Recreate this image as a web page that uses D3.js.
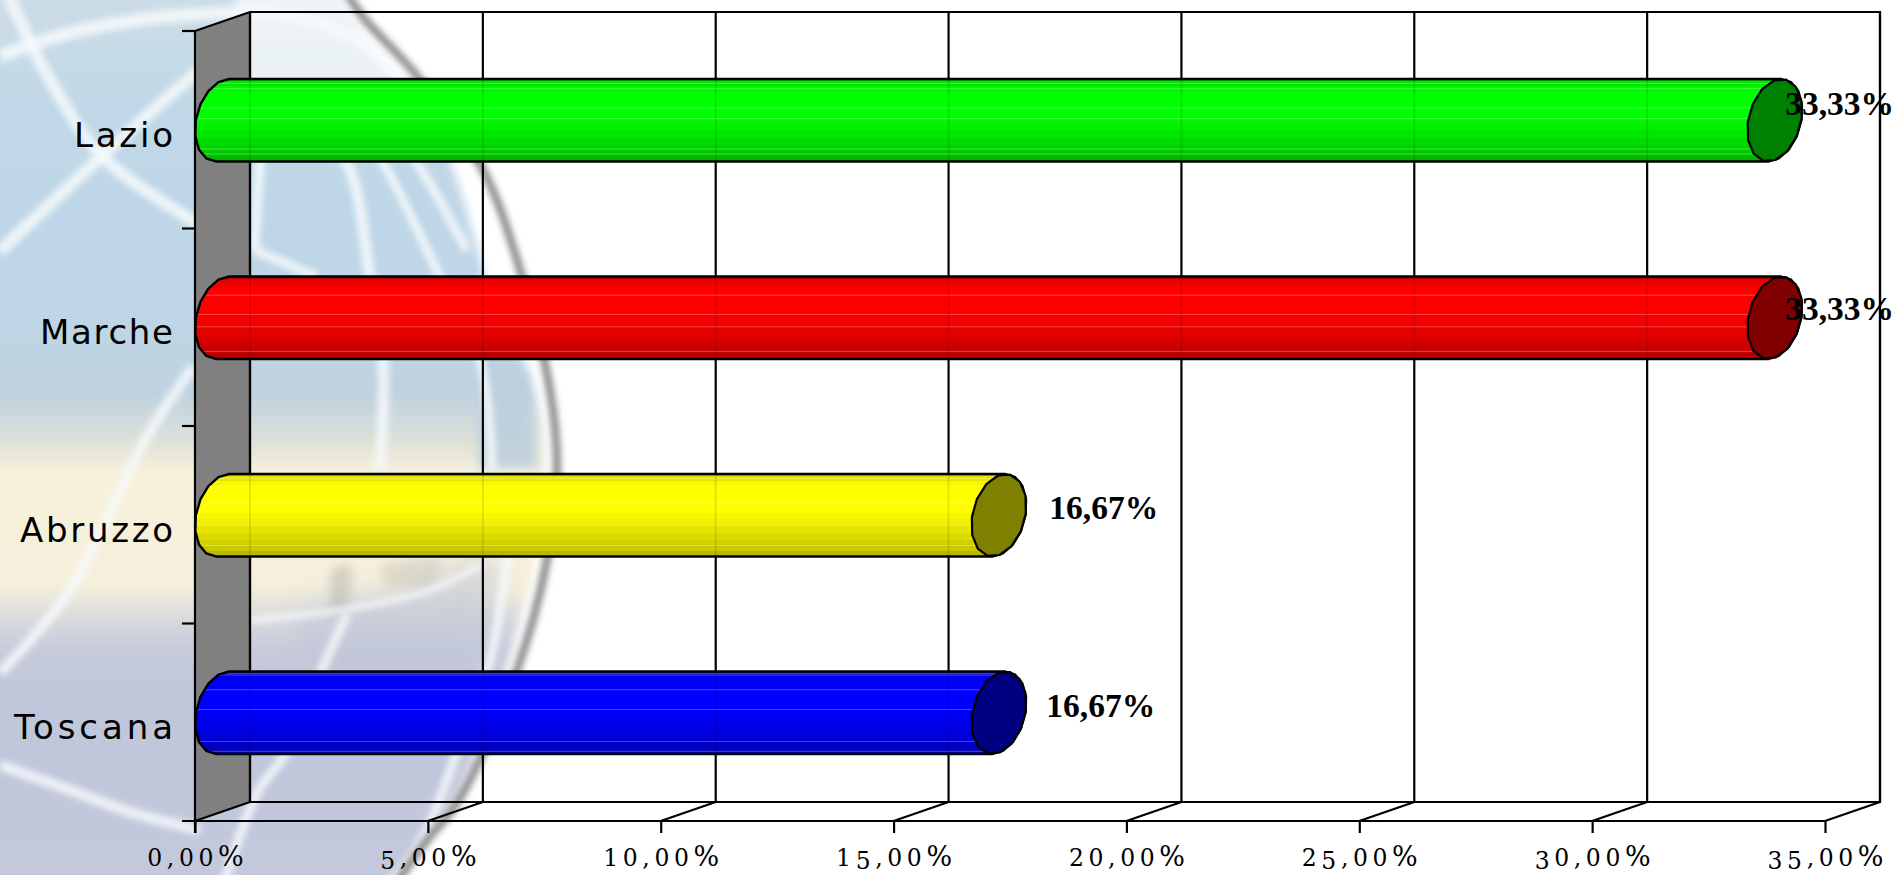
<!DOCTYPE html>
<html><head><meta charset="utf-8">
<script src="https://cdnjs.cloudflare.com/ajax/libs/d3/7.8.5/d3.min.js"></script>
<style>html,body{margin:0;padding:0;background:#fff;overflow:hidden}svg{display:block}</style>
</head><body><svg id="c" width="1896" height="875"></svg>
<script>
const categories = ["Lazio","Marche","Abruzzo","Toscana"];
const values = [33.33,33.33,16.67,16.67];
const valueLabels = ["33,33%","33,33%","16,67%","16,67%"];
const bodyColors = ["#00ff00","#ff0000","#ffff00","#0000ff"];
const faceColors = ["#008000","#800000","#808000","#000080"];
const xTicks = [0,5,10,15,20,25,30,35];

const W=1896,H=875;
const svg=d3.select("#c");
const defs=svg.append("defs");
const DX=55,DY=-19;
const x=d3.scaleLinear([0,35],[195,1825]);
const y=d3.scaleBand(categories,[31,821]);
const barH=82;
const labelDx=[38,38,78,75], labelBase=[115,320,519,717];
const catWidths=[99,133,153,159];
const glints=[[.05,.115,.35,.48,.85,.91],[.225,.46,.61,.91],[.05,.14,.35,.62,.87],[.02,.04,.22,.46,.85,.97]];

/* ---------- blurred globe backdrop ---------- */
const blur=(id,s)=>defs.append("filter").attr("id",id).attr("filterUnits","userSpaceOnUse")
  .attr("x",-100).attr("y",-100).attr("width",900).attr("height",1100)
  .append("feGaussianBlur").attr("stdDeviation",s);
blur("b3",3.2);blur("b5",5);blur("b12",14);
const bgGrad=defs.append("linearGradient").attr("id","bgG").attr("gradientUnits","userSpaceOnUse").attr("x1",0).attr("x2",0).attr("y1",0).attr("y2",875);
[[0,"#ccdce6"],[120,"#bfd7e7"],[300,"#bed6e6"],[395,"#bfd2e0"],[440,"#dde0d8"],[475,"#f8f1da"],[585,"#f5efdc"],[615,"#dcdcdc"],[650,"#c6cadb"],[700,"#bfc6da"],[875,"#c3c8dc"]]
  .forEach(([o,c])=>bgGrad.append("stop").attr("offset",o/875).attr("stop-color",c));
const curve=d3.line().curve(d3.curveCatmullRom.alpha(.5));
const rim=[[345,-10],[363,17],[417,76],[483,170],[517,260],[550,390],[557,470],[547,560],[517,670],[457,803],[427,840],[395,885]];
const interior=[[330,-20],[380,60],[440,140],[478,250],[492,310],[528,370],[545,470],[533,560],[505,670],[452,803],[422,840],[392,885]];
const bg=svg.append("g");
bg.append("rect").attr("width",W).attr("height",H).attr("fill","#fff");
bg.append("path").attr("d",curve(interior)+"L-20,885L-20,-20Z").attr("fill","url(#bgG)").attr("filter","url(#b5)");
// washed-out top of the globe
bg.append("path").attr("d","M235,-10H370L425,85H235Z").attr("fill","#fff").attr("opacity",.66).attr("filter","url(#b5)");
// strip between the 5% grid line and the rim
bg.append("path").attr("d","M478,355L525,372L538,470H478Z").attr("fill","#bccfde").attr("opacity",.85).attr("filter","url(#b5)");
bg.append("path").attr("d","M478,470H538L530,590L478,610Z").attr("fill","#f5efdc").attr("opacity",.8).attr("filter","url(#b5)");
// horizon tint and smudges
bg.append("path").attr("d",curve([[300,610],[400,590],[490,560],[490,650],[400,700],[300,690]])+"Z").attr("fill","#c0c6d8").attr("opacity",.6).attr("filter","url(#b12)");
bg.append("path").attr("d",curve([[330,570],[350,565],[345,610],[330,615]])+"Z").attr("fill","#a8a8a0").attr("opacity",.4).attr("filter","url(#b5)");
bg.append("path").attr("d",curve([[380,565],[440,560],[430,585],[385,585]])+"Z").attr("fill","#b8b6aa").attr("opacity",.35).attr("filter","url(#b5)");
const whites=[
 [[[0,56],[82,30],[204,14],[300,18],[367,45],[440,120]],13],
 [[[8,-5],[50,80],[102,156],[196,223],[240,250]],12],
 [[[0,251],[102,156],[196,73],[230,45]],12],
 [[[193,367],[145,440],[70,590],[0,673]],10],
 [[[0,765],[70,790],[130,812],[200,830]],10],
 [[[262,130],[258,190],[254,250]],10],
 [[[254,250],[317,277]],9],
 [[[300,110],[347,163],[370,277],[383,360],[380,470]],11],
 [[[345,110],[383,163],[440,277],[480,360],[492,470]],9],
 [[[385,120],[417,163],[467,250]],9],
 [[[347,614],[323,667],[283,757],[257,793],[225,880]],9],
 [[[520,480],[503,590],[490,660],[465,730],[417,850],[388,885]],9],
 [[[250,620],[340,610],[430,590],[480,565]],6]
];
whites.forEach(([p,w])=>bg.append("path").attr("d",curve(p)).attr("fill","none").attr("stroke","#f6fafc").attr("stroke-width",w).attr("opacity",.85).attr("filter","url(#b3)"));
bg.append("path").attr("d",curve(rim)).attr("fill","none").attr("stroke","#8c8c8c").attr("stroke-width",8).attr("filter","url(#b3)");

/* ---------- chart frame ---------- */
const yTop=y.range()[0], yBot=y.range()[1];
svg.append("path")
  .attr("d",`M${x(0)},${yTop}L${x(0)+DX},${yTop+DY}L${x(0)+DX},${yBot+DY}L${x(0)},${yBot}Z`)
  .attr("fill","#808080");
const frame=svg.append("g").attr("fill","none").attr("stroke","#000").attr("stroke-width",2.2);
frame.selectAll("path.wall").data([0]).join("path").attr("class","wall")
  .attr("d",`M${x(0)},${yTop}L${x(0)+DX},${yTop+DY}H${x(35)+DX}V${yBot+DY}H${x(0)+DX}V${yTop+DY}`);
frame.selectAll("line.grid").data(xTicks).join("line").attr("class","grid")
  .attr("x1",d=>x(d)+DX).attr("x2",d=>x(d)+DX).attr("y1",yTop+DY).attr("y2",yBot+DY);
frame.selectAll("line.floor").data(xTicks).join("line").attr("class","floor")
  .attr("x1",d=>x(d)).attr("x2",d=>x(d)+DX).attr("y1",yBot).attr("y2",yBot+DY);

/* ---------- cylinders ---------- */
const RX=27.5,SK=10,RY=40;
const ell=(cx,cy,t)=>[cx+RX*Math.cos(t),cy-SK*Math.cos(t)+RY*Math.sin(t)];
const tTop=Math.atan2(-RY,SK), tBot=Math.PI+tTop;
function bodyPath(x0,x1,cy){
  const pts=[], n=8;
  for(let i=0;i<=n;i++){const t=tBot+(2*Math.PI+tTop-tBot)*i/n;pts.push(ell(x0+RX,cy,t));}
  for(let i=0;i<=n;i++){const t=tTop+(tBot-tTop)*i/n;pts.push(ell(x1+RX,cy,t));}
  return "M"+pts.join("L")+"Z";
}
function facePath(x1,cy){
  const pts=d3.range(14).map(i=>ell(x1+RX,cy,i/14*2*Math.PI+.2));
  return "M"+pts.join("L")+"Z";
}
const bands=[[0,.72],[.03,.9],[.08,.97],[.14,1],[.35,1],[.47,.97],[.55,.94],[.62,.9],[.72,.86],[.8,.82],[.87,.78],[.93,.72],[1,.68]];
const shade=(c,k)=>{const r=d3.rgb(c);return d3.rgb(r.r*k,r.g*k,r.b*k).formatHex();};
bodyColors.forEach((c,i)=>{
  const g=defs.append("linearGradient").attr("id","bar"+i).attr("x1",0).attr("x2",0).attr("y1",0).attr("y2",1);
  bands.forEach(([o,k],j)=>{
    const next=j+1<bands.length?bands[j+1][0]:1;
    g.append("stop").attr("offset",o).attr("stop-color",shade(c,k));
    g.append("stop").attr("offset",next).attr("stop-color",shade(c,k));
  });
  defs.append("clipPath").attr("id","clip"+i).append("path")
    .attr("d",bodyPath(x(0),x(values[i]),y(categories[i])+y.bandwidth()/2+DY/2));
});
const bars=svg.selectAll("g.bar").data(categories).join("g").attr("class","bar");
bars.each(function(cat,i){
  const g=d3.select(this);
  const cy=y(cat)+y.bandwidth()/2+DY/2;
  const x0=x(0),x1=x(values[i]);
  g.append("path").attr("d",bodyPath(x0,x1,cy)).attr("fill",`url(#bar${i})`);
  const cl=g.append("g").attr("clip-path",`url(#clip${i})`);
  glints[i].forEach(f=>cl.append("line").attr("x1",x0).attr("x2",x1+DX+4)
     .attr("y1",cy-barH/2+f*barH).attr("y2",cy-barH/2+f*barH)
     .attr("stroke","#fff").attr("stroke-opacity",.28).attr("stroke-width",1));
  xTicks.filter(d=>x(d)+DX<x1).forEach(d=>cl.append("line")
     .attr("x1",x(d)+DX).attr("x2",x(d)+DX).attr("y1",cy-barH/2).attr("y2",cy+barH/2)
     .attr("stroke","#000").attr("stroke-opacity",.1).attr("stroke-width",2));
  g.append("path").attr("d",bodyPath(x0,x1,cy)).attr("fill","none").attr("stroke","#000").attr("stroke-width",2.4).attr("stroke-linejoin","round");
  g.append("path").attr("d",facePath(x1,cy)).attr("fill",faceColors[i]).attr("stroke","#000").attr("stroke-width",2.2).attr("stroke-linejoin","round");
});

/* ---------- axes ---------- */
const ax=svg.append("g").attr("transform",`translate(0,${yBot})`)
  .call(d3.axisBottom(x).tickValues(xTicks).tickSize(12).tickSizeOuter(0).tickPadding(0)
     .tickFormat(d=>d.toFixed(2).replace(".",",")+"%"));
ax.select(".domain").attr("stroke","#000").attr("stroke-width",2.2).attr("d",`M${x(0)-13},0H${x(35)}`);
ax.selectAll(".tick line").attr("stroke","#000").attr("stroke-width",2.2);
ax.selectAll(".tick text").each(function(){
  const s=d3.select(this), str=s.text(), sel=s.text(null)
    .attr("y",45).attr("dy",0).attr("font-family","'DejaVu Serif'").attr("fill","#000").attr("text-anchor","middle");
  let prevDrop=0;
  [...str].forEach((ch,i)=>{
    const drop="35".includes(ch)?3:0;
    sel.append("tspan").text(ch).attr("font-size",ch==="%"?27:23.5)
      .attr("dx",i?4.6:0).attr("dy",drop-prevDrop);
    prevDrop=drop;
  });
});
const ay=svg.append("g").attr("transform",`translate(${x(0)},0)`)
  .call(d3.axisLeft(y).tickSize(0).tickPadding(22));
ay.select(".domain").attr("stroke","#000").attr("stroke-width",2.2).attr("d",`M0,${yTop}V${yBot+12}`);
ay.selectAll(".tick text").attr("font-family","'DejaVu Sans'").attr("font-size",34)
  .attr("textLength",(d,i)=>catWidths[i]).attr("lengthAdjust","spacing")
  .attr("fill","#000").attr("dy",17).attr("y",0);
svg.append("g").selectAll("line").data(categories).join("line")
  .attr("x1",x(0)-13).attr("x2",x(0)).attr("y1",d=>y(d)).attr("y2",d=>y(d))
  .attr("stroke","#000").attr("stroke-width",2.2);

/* ---------- value labels ---------- */
svg.append("g").selectAll("text").data(valueLabels).join("text")
  .attr("x",(d,i)=>x(values[i])+labelDx[i]).attr("y",(d,i)=>labelBase[i])
  .attr("font-family","'Liberation Serif'").attr("font-weight",700).attr("font-size",33.5).attr("fill","#000")
  .text(d=>d);
</script></body></html>
